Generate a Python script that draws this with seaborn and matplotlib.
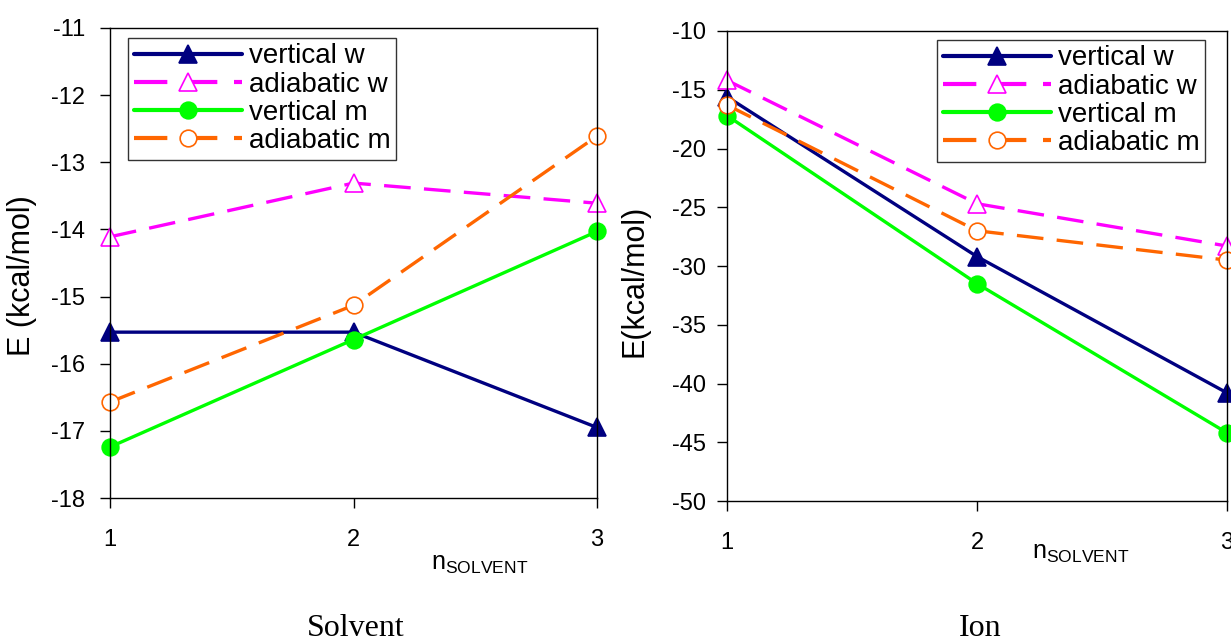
import numpy as np
import pandas as pd
import matplotlib
matplotlib.use("Agg")
import matplotlib.pyplot as plt
import seaborn as sns

sns.set_theme(style="white")
plt.rcParams['font.family'] = ['Liberation Sans', 'DejaVu Sans']
plt.rcParams['mathtext.fontset'] = 'custom'
plt.rcParams['mathtext.rm'] = 'Liberation Sans'
plt.rcParams['axes.unicode_minus'] = False
for key in ('text.color', 'axes.labelcolor', 'xtick.color', 'ytick.color', 'axes.edgecolor'):
    plt.rcParams[key] = 'black'

n_solvent = [1, 2, 3]
series_names = ["vertical w", "adiabatic w", "vertical m", "adiabatic m"]

# Solvent panel
solv_vertical_w = [-15.53, -15.53, -16.95]
solv_adiabatic_w = [-14.11, -13.31, -13.61]
solv_vertical_m = [-17.24, -15.64, -14.03]
solv_adiabatic_m = [-16.57, -15.13, -12.61]

# Ion panel
ion_vertical_w = [-15.6, -29.2, -40.8]
ion_adiabatic_w = [-14.2, -24.7, -28.3]
ion_vertical_m = [-17.2, -31.5, -44.2]
ion_adiabatic_m = [-16.3, -27.0, -29.5]

colors = {"vertical w": "#000080", "adiabatic w": "#FF00FF",
          "vertical m": "#00FF00", "adiabatic m": "#FF6600"}
markers = {"vertical w": "^", "adiabatic w": "^", "vertical m": "o", "adiabatic m": "o"}
filled = {"vertical w": True, "adiabatic w": False, "vertical m": True, "adiabatic m": False}
dashed = {"vertical w": False, "adiabatic w": True, "vertical m": False, "adiabatic m": True}

fig = plt.figure(figsize=(12.31, 6.43), dpi=100)
ax1 = fig.add_axes([0.0894, 0.2255, 0.3956, 0.731])
ax2 = fig.add_axes([0.5906, 0.2208, 0.4062, 0.731])


def draw(ax, data):
    for name in series_names:
        c = colors[name]
        kw = dict(color=c, marker=markers[name], markersize=13 if markers[name] == "^" else 12,
                  linewidth=2.4, markeredgewidth=1.2, markeredgecolor=c,
                  markerfacecolor=c if filled[name] else "white",
                  label=name, clip_on=False)
        if dashed[name]:
            kw["dashes"] = (8, 4)
        sns.lineplot(x=n_solvent, y=data[name], ax=ax, **kw)


draw(ax1, {"vertical w": solv_vertical_w, "adiabatic w": solv_adiabatic_w,
           "vertical m": solv_vertical_m, "adiabatic m": solv_adiabatic_m})
draw(ax2, {"vertical w": ion_vertical_w, "adiabatic w": ion_adiabatic_w,
           "vertical m": ion_vertical_m, "adiabatic m": ion_adiabatic_m})

ax1.set_xlim(1, 3)
ax1.set_ylim(-18, -11)
ax1.set_yticks(np.arange(-18, -10, 1))
ax2.set_xlim(1, 3)
ax2.set_ylim(-50, -10)
ax2.set_yticks(np.arange(-50, -5, 5))

for ax in (ax1, ax2):
    ax.set_xticks(n_solvent)
    ax.tick_params(axis='both', which='both', direction='out', length=7, width=1,
                   color='black', labelcolor='black', labelsize=17, left=True, bottom=True)
    ax.tick_params(axis='x', pad=15)
    for s in ax.spines.values():
        s.set_color('black')
        s.set_linewidth(1)
    ax.set_xlabel(r'$\mathregular{n_{SOLVENT}}$', fontsize=18)
    ax.grid(False)

ax1.tick_params(axis='y', pad=11)
ax2.tick_params(axis='y', pad=8)

ax1.xaxis.set_label_coords(0.76, -0.115)
ax2.xaxis.set_label_coords(0.708, -0.085)
ax1.set_ylabel("E (kcal/mol)", fontsize=22)
ax2.set_ylabel("E(kcal/mol)", fontsize=22)
ax1.yaxis.set_label_coords(-0.15, 0.474)
ax2.yaxis.set_label_coords(-0.156, 0.468)

for ax, anchor in ((ax1, (0.037, 0.979)), (ax2, (0.42, 0.981))):
    leg = ax.legend(loc='upper left', bbox_to_anchor=anchor, borderaxespad=0,
                    fontsize=20, frameon=True, fancybox=False, handlelength=3.9,
                    labelspacing=0.08, handletextpad=0.25, borderpad=0.2,
                    edgecolor='black')
    leg.get_frame().set_linewidth(1)
    for line in leg.get_lines():
        line.set_linewidth(3.0)

fig.text(0.2888, 0.0, "Solvent", family="Liberation Serif", fontsize=23, ha='center', va='bottom')
fig.text(0.796, 0.0, "Ion", family="Liberation Serif", fontsize=23, ha='center', va='bottom')

fig.savefig("out.png", dpi=100, facecolor="white")
